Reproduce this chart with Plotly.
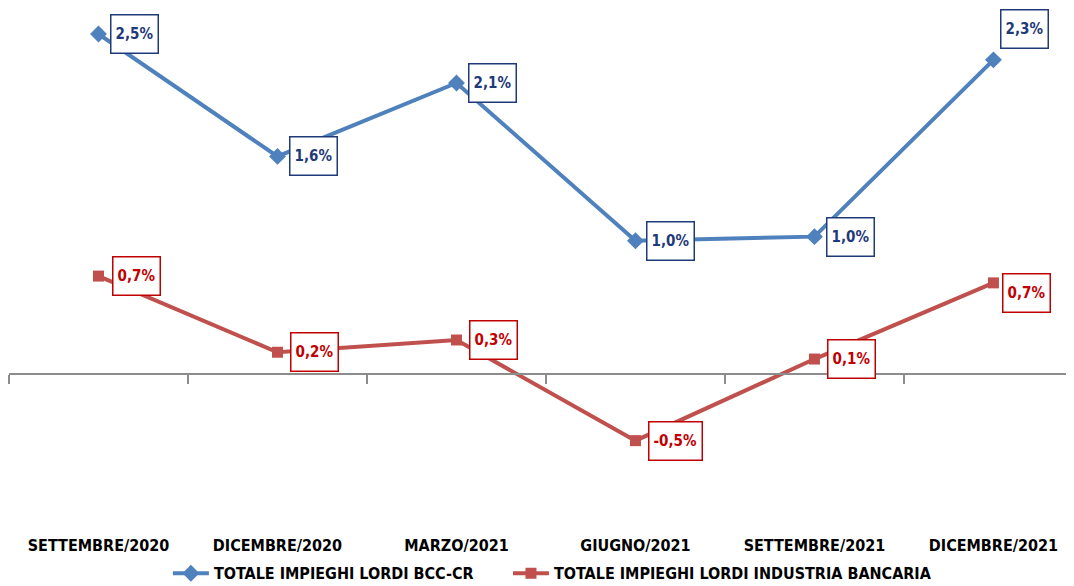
import plotly.graph_objects as go

categories = ["SETTEMBRE/2020", "DICEMBRE/2020", "MARZO/2021",
              "GIUGNO/2021", "SETTEMBRE/2021", "DICEMBRE/2021"]
bcc_values = [2.50, 1.60, 2.14, 0.98, 1.01, 2.31]
bcc_labels = ["2,5%", "1,6%", "2,1%", "1,0%", "1,0%", "2,3%"]
ind_values = [0.72, 0.16, 0.25, -0.49, 0.11, 0.67]
ind_labels = ["0,7%", "0,2%", "0,3%", "-0,5%", "0,1%", "0,7%"]
series_names = ["TOTALE IMPIEGHI LORDI BCC-CR",
                "TOTALE IMPIEGHI LORDI INDUSTRIA BANCARIA"]

FONT = "Liberation Sans Narrow, DejaVu Sans Condensed, Arial Narrow, sans-serif"
BLUE, RED = "#4F81BD", "#C0504D"
BLUE_TXT, RED_TXT = "#1F3A78", "#C00000"

# label box offsets (pixels): right shift, downward shift
bcc_off = [(11, 0), (12, 0), (12, 0), (11, 0), (12, 0), (7, -31)]
ind_off = [(13, 0), (13, 0), (13, 0), (13, 0), (13, 0), (9, 10)]

idx = list(range(len(categories)))
Y_MIN, Y_MAX = -1.0, 2.5
X_RANGE = [-0.5, 5.45]

fig = go.Figure()
fig.add_trace(go.Scatter(
    x=idx, y=bcc_values, name=series_names[0], mode="lines+markers",
    line=dict(color=BLUE, width=4), cliponaxis=False, legend="legend",
    marker=dict(symbol="diamond", size=13, color=BLUE),
))
fig.add_trace(go.Scatter(
    x=idx, y=ind_values, name=series_names[1], mode="lines+markers",
    xaxis="x2", cliponaxis=False, legend="legend2",
    line=dict(color=RED, width=4),
    marker=dict(symbol="square", size=11, color=RED),
))

annotations = []
for vals, labs, offs, col in [(bcc_values, bcc_labels, bcc_off, BLUE_TXT),
                              (ind_values, ind_labels, ind_off, RED_TXT)]:
    for i, (v, t, (dx, dy)) in enumerate(zip(vals, labs, offs)):
        annotations.append(dict(
            x=i, y=v, xref="x", yref="y", text=t, showarrow=False,
            xanchor="left", yanchor="middle", xshift=dx, yshift=-dy,
            bgcolor="white", bordercolor=col, borderwidth=1.5, borderpad=4,
            height=29,
            font=dict(family=FONT, size=15, color=col, weight="bold"),
        ))

zero_pos = (0 - Y_MIN) / (Y_MAX - Y_MIN)
boundaries = [i - 0.5 for i in range(len(categories) + 1)]

legend_common = dict(orientation="h", xanchor="left",
                     xref="container", yref="container",
                     y=0.022, yanchor="middle", itemwidth=36,
                     bgcolor="rgba(0,0,0,0)",
                     font=dict(family=FONT, size=16, color="black", weight="bold"))

# the page body adds an 8px offset, so the figure is sized to fit the window
fig.update_layout(
    width=1066, height=578,
    paper_bgcolor="white", plot_bgcolor="white",
    margin=dict(l=1, r=0, t=26, b=76, autoexpand=False),
    showlegend=True,
    legend=dict(x=0.150, **legend_common),
    legend2=dict(x=0.469, **legend_common),
    xaxis=dict(range=X_RANGE, tickvals=idx, ticktext=categories,
               showline=False, showgrid=False, zeroline=False, ticks="",
               ticklabelstandoff=24, automargin=False,
               tickfont=dict(family=FONT, size=16, color="black", weight="bold")),
    xaxis2=dict(range=X_RANGE, overlaying="x", anchor="free", position=zero_pos,
                side="bottom", showline=True, linecolor="#8C8C8C", linewidth=1.5,
                tickvals=boundaries, ticks="outside", ticklen=9, tickwidth=1.5,
                tickcolor="#8C8C8C", showticklabels=False, showgrid=False,
                zeroline=False, automargin=False),
    yaxis=dict(range=[Y_MIN, Y_MAX], visible=False, showgrid=False,
               zeroline=False),
    annotations=annotations,
)

fig.write_html("out.html")
